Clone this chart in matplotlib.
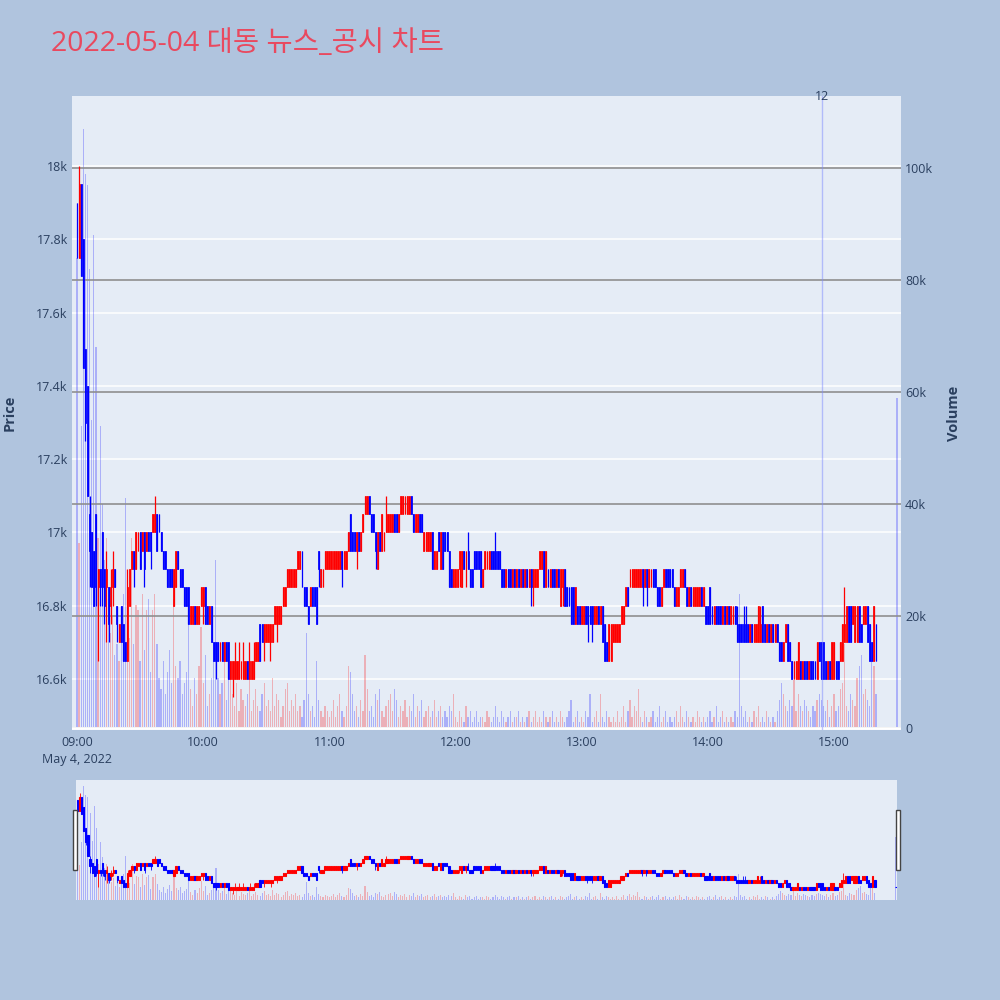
import matplotlib.pyplot as plt
from matplotlib.patches import Rectangle
from matplotlib.ticker import FuncFormatter

plt.rcParams['font.family'] = ['Open Sans', 'Noto Sans CJK KR', 'DejaVu Sans']

title = '2022-05-04 대동 뉴스_공시 차트'
date_label = 'May 4, 2022'

# minutes after 09:00 (one candle per minute, plus the 15:30 closing print)
minutes = list(range(381)) + [390]

opens = [
    17900, 17750, 17950, 17800, 17500, 17400, 17050, 17000, 16950, 17050,
    16850, 16900, 17000, 16900, 16850, 16850, 16800, 16850, 16900, 16800,
    16700, 16800, 16750, 16700, 16650, 16800, 16900, 16950, 16900, 16950,
    17000, 16950, 17000, 16950, 17000, 17000, 17000, 17000, 17050, 17050,
    17000, 16950, 16950, 16900, 16900, 16900, 16800, 16850, 16950, 16900,
    16900, 16850, 16850, 16850, 16750, 16750, 16800, 16750, 16750, 16800,
    16800, 16850, 16800, 16750, 16800, 16700, 16700, 16700, 16650, 16700,
    16650, 16700, 16700, 16600, 16600, 16600, 16600, 16600, 16600, 16600,
    16600, 16650, 16600, 16600, 16600, 16650, 16650, 16750, 16750, 16700,
    16700, 16700, 16700, 16700, 16750, 16750, 16750, 16750, 16800, 16800,
    16850, 16850, 16850, 16850, 16850, 16900, 16900, 16950, 16850, 16850,
    16800, 16800, 16850, 16850, 16850, 16950, 16850, 16850, 16900, 16900,
    16900, 16900, 16900, 16900, 16900, 16900, 16950, 16900, 16900, 16950,
    17050, 17000, 17000, 16950, 17000, 16950, 17000, 17050, 17050, 17100,
    17050, 17050, 17000, 16900, 17000, 16950, 16950, 17000, 17000, 17000,
    17000, 17050, 17050, 17000, 17050, 17050, 17050, 17050, 17050, 17100,
    17050, 17000, 17000, 17050, 17050, 16950, 16950, 16950, 16950, 17000,
    16900, 16900, 17000, 16900, 17000, 17000, 17000, 16950, 16900, 16850,
    16850, 16850, 16900, 16850, 16950, 16900, 16950, 16900, 16900, 16950,
    16950, 16950, 16950, 16850, 16900, 16900, 16900, 16950, 16950, 16950,
    16950, 16950, 16900, 16900, 16850, 16900, 16900, 16850, 16900, 16850,
    16900, 16850, 16900, 16850, 16900, 16850, 16900, 16850, 16850, 16850,
    16900, 16900, 16950, 16850, 16900, 16850, 16900, 16900, 16850, 16900,
    16800, 16850, 16900, 16850, 16850, 16850, 16850, 16750, 16800, 16800,
    16750, 16750, 16800, 16800, 16800, 16800, 16750, 16750, 16800, 16750,
    16800, 16750, 16700, 16650, 16650, 16700, 16700, 16700, 16700, 16750,
    16750, 16800, 16850, 16850, 16850, 16850, 16850, 16850, 16850, 16900,
    16850, 16900, 16850, 16850, 16900, 16900, 16850, 16850, 16800, 16850,
    16900, 16900, 16900, 16900, 16850, 16800, 16800, 16850, 16850, 16900,
    16850, 16800, 16850, 16800, 16800, 16800, 16800, 16850, 16800, 16800,
    16800, 16850, 16800, 16750, 16800, 16800, 16800, 16750, 16800, 16750,
    16800, 16750, 16750, 16800, 16750, 16750, 16750, 16750, 16750, 16750,
    16700, 16750, 16700, 16700, 16700, 16700, 16800, 16750, 16700, 16750,
    16700, 16750, 16700, 16750, 16700, 16700, 16650, 16700, 16750, 16700,
    16650, 16600, 16600, 16600, 16650, 16600, 16650, 16650, 16600, 16650,
    16650, 16650, 16600, 16700, 16700, 16700, 16650, 16600, 16650, 16600,
    16600, 16650, 16650, 16650, 16650, 16700, 16700, 16800, 16800, 16750,
    16700, 16700, 16800, 16750, 16750, 16750, 16800, 16750, 16700, 16650,
    16750, 16650,
]

highs = [
    17900, 18000, 17950, 17800, 17500, 17400, 17100, 17000, 16950, 17050,
    16900, 16900, 17000, 16900, 16950, 16850, 16900, 16950, 16900, 16800,
    16750, 16800, 16750, 16700, 16900, 16900, 16950, 16950, 17000, 17000,
    17000, 17000, 17000, 17000, 17000, 17000, 17050, 17100, 17050, 17050,
    17000, 16950, 16950, 16900, 16900, 16900, 16900, 16950, 16950, 16900,
    16900, 16850, 16850, 16850, 16800, 16800, 16800, 16800, 16800, 16850,
    16850, 16850, 16800, 16800, 16800, 16700, 16700, 16700, 16700, 16700,
    16700, 16700, 16700, 16650, 16650, 16700, 16650, 16700, 16650, 16700,
    16650, 16650, 16700, 16650, 16700, 16700, 16700, 16750, 16750, 16750,
    16750, 16750, 16750, 16750, 16800, 16800, 16800, 16800, 16850, 16850,
    16900, 16900, 16900, 16900, 16900, 16950, 16950, 16950, 16850, 16850,
    16800, 16850, 16850, 16850, 16850, 16950, 16900, 16900, 16950, 16950,
    16950, 16950, 16950, 16950, 16950, 16950, 16950, 16950, 16950, 17000,
    17050, 17000, 17000, 17000, 17000, 17000, 17050, 17100, 17100, 17100,
    17050, 17050, 17000, 17000, 17000, 17050, 17000, 17100, 17050, 17050,
    17050, 17050, 17050, 17050, 17100, 17100, 17100, 17100, 17100, 17100,
    17050, 17050, 17050, 17050, 17050, 17000, 17000, 17000, 17000, 17000,
    16950, 16950, 17000, 17000, 17000, 17000, 17000, 16950, 16900, 16900,
    16900, 16900, 16950, 16950, 16950, 16950, 17000, 16900, 16900, 16950,
    16950, 16950, 16950, 16900, 16950, 16950, 16950, 16950, 16950, 17000,
    16950, 16950, 16900, 16900, 16900, 16900, 16900, 16900, 16900, 16900,
    16900, 16900, 16900, 16900, 16900, 16900, 16900, 16900, 16900, 16900,
    16950, 16950, 16950, 16950, 16900, 16900, 16900, 16900, 16900, 16900,
    16900, 16900, 16900, 16850, 16850, 16850, 16850, 16850, 16800, 16800,
    16800, 16800, 16800, 16800, 16800, 16800, 16800, 16800, 16800, 16800,
    16800, 16750, 16700, 16750, 16750, 16750, 16750, 16750, 16750, 16800,
    16800, 16850, 16850, 16900, 16900, 16900, 16900, 16900, 16900, 16900,
    16900, 16900, 16900, 16900, 16900, 16900, 16850, 16850, 16850, 16900,
    16900, 16900, 16900, 16900, 16850, 16850, 16850, 16900, 16900, 16900,
    16850, 16850, 16850, 16850, 16850, 16850, 16850, 16850, 16850, 16800,
    16800, 16850, 16800, 16800, 16800, 16800, 16800, 16800, 16800, 16800,
    16800, 16800, 16800, 16800, 16800, 16750, 16750, 16800, 16800, 16750,
    16750, 16750, 16750, 16750, 16800, 16800, 16800, 16750, 16750, 16750,
    16750, 16750, 16750, 16750, 16700, 16700, 16700, 16750, 16750, 16700,
    16650, 16650, 16650, 16700, 16650, 16650, 16650, 16650, 16650, 16650,
    16650, 16650, 16700, 16700, 16700, 16700, 16650, 16650, 16650, 16700,
    16700, 16650, 16650, 16700, 16750, 16850, 16800, 16800, 16800, 16800,
    16800, 16800, 16800, 16750, 16800, 16800, 16800, 16750, 16700, 16800,
    16750, 16650,
]

lows = [
    17750, 17750, 17700, 17450, 17250, 17100, 16850, 16850, 16800, 16800,
    16650, 16800, 16800, 16750, 16700, 16700, 16750, 16800, 16850, 16700,
    16700, 16700, 16650, 16650, 16650, 16800, 16900, 16850, 16900, 16950,
    16900, 16950, 16850, 16950, 16950, 16900, 17000, 17000, 16950, 17000,
    16950, 16900, 16900, 16850, 16850, 16850, 16800, 16850, 16900, 16850,
    16850, 16800, 16800, 16750, 16750, 16750, 16750, 16750, 16750, 16800,
    16750, 16750, 16750, 16750, 16700, 16650, 16600, 16650, 16650, 16650,
    16650, 16650, 16600, 16600, 16550, 16600, 16600, 16600, 16600, 16600,
    16600, 16600, 16600, 16600, 16600, 16650, 16650, 16650, 16700, 16650,
    16700, 16700, 16650, 16700, 16750, 16700, 16750, 16750, 16800, 16800,
    16850, 16850, 16850, 16850, 16850, 16900, 16900, 16850, 16800, 16800,
    16750, 16800, 16800, 16800, 16750, 16850, 16850, 16850, 16900, 16900,
    16900, 16900, 16900, 16900, 16900, 16900, 16850, 16900, 16900, 16950,
    16950, 16950, 16950, 16900, 16950, 16950, 17000, 17050, 17050, 17050,
    17000, 17000, 16900, 16900, 16950, 16950, 16950, 17000, 17000, 17000,
    17000, 17000, 17000, 17000, 17050, 17050, 17050, 17050, 17050, 17050,
    17000, 17000, 17000, 17000, 17000, 16950, 16950, 16950, 16950, 16900,
    16900, 16900, 16950, 16900, 16900, 16950, 16950, 16850, 16850, 16850,
    16850, 16850, 16850, 16850, 16900, 16850, 16900, 16850, 16850, 16900,
    16900, 16900, 16850, 16850, 16900, 16900, 16900, 16900, 16900, 16900,
    16900, 16900, 16850, 16850, 16850, 16850, 16850, 16850, 16850, 16850,
    16850, 16850, 16850, 16850, 16850, 16850, 16800, 16800, 16850, 16850,
    16900, 16900, 16850, 16850, 16850, 16850, 16850, 16850, 16850, 16850,
    16800, 16800, 16800, 16800, 16800, 16750, 16750, 16750, 16750, 16750,
    16750, 16750, 16750, 16700, 16750, 16700, 16750, 16750, 16750, 16750,
    16700, 16650, 16650, 16650, 16650, 16700, 16700, 16700, 16700, 16750,
    16750, 16800, 16800, 16850, 16850, 16850, 16850, 16850, 16850, 16800,
    16850, 16800, 16850, 16850, 16850, 16850, 16800, 16800, 16800, 16850,
    16850, 16850, 16850, 16850, 16800, 16800, 16800, 16850, 16850, 16850,
    16800, 16800, 16800, 16800, 16800, 16800, 16800, 16800, 16800, 16750,
    16750, 16750, 16750, 16750, 16750, 16750, 16750, 16750, 16750, 16750,
    16750, 16750, 16750, 16750, 16700, 16700, 16700, 16700, 16700, 16700,
    16700, 16700, 16700, 16700, 16700, 16700, 16700, 16700, 16700, 16700,
    16700, 16700, 16700, 16700, 16650, 16650, 16650, 16700, 16650, 16650,
    16600, 16600, 16600, 16600, 16600, 16600, 16600, 16600, 16600, 16600,
    16600, 16600, 16600, 16650, 16600, 16600, 16600, 16600, 16600, 16600,
    16600, 16600, 16600, 16650, 16650, 16700, 16700, 16700, 16700, 16750,
    16700, 16700, 16700, 16700, 16750, 16750, 16700, 16650, 16650, 16650,
    16650, 16650,
]

closes = [
    17750, 17950, 17700, 17450, 17300, 17100, 16950, 16850, 16800, 16850,
    16900, 16850, 16850, 16800, 16900, 16750, 16850, 16900, 16850, 16750,
    16750, 16700, 16650, 16650, 16850, 16900, 16950, 16900, 17000, 17000,
    16900, 17000, 16900, 17000, 16950, 16950, 17050, 17050, 16950, 17000,
    16950, 16900, 16900, 16850, 16850, 16850, 16900, 16950, 16900, 16850,
    16850, 16800, 16800, 16750, 16800, 16800, 16750, 16800, 16800, 16850,
    16850, 16750, 16750, 16800, 16700, 16650, 16650, 16650, 16700, 16650,
    16700, 16650, 16600, 16650, 16650, 16650, 16650, 16650, 16650, 16650,
    16650, 16600, 16650, 16650, 16650, 16700, 16700, 16650, 16700, 16750,
    16750, 16750, 16750, 16750, 16800, 16800, 16800, 16800, 16850, 16850,
    16900, 16900, 16900, 16900, 16900, 16950, 16950, 16850, 16800, 16800,
    16750, 16850, 16800, 16800, 16750, 16900, 16900, 16900, 16950, 16950,
    16950, 16950, 16950, 16950, 16950, 16950, 16900, 16950, 16950, 17000,
    16950, 16950, 16950, 17000, 16950, 17000, 17050, 17100, 17100, 17050,
    17000, 17000, 16950, 17000, 16950, 17050, 17000, 17050, 17050, 17050,
    17050, 17000, 17000, 17050, 17100, 17100, 17100, 17100, 17100, 17050,
    17000, 17050, 17050, 17000, 17000, 17000, 17000, 17000, 17000, 16900,
    16950, 16950, 16950, 17000, 16900, 16950, 16950, 16850, 16850, 16900,
    16900, 16900, 16950, 16950, 16900, 16950, 16900, 16850, 16850, 16900,
    16900, 16900, 16850, 16900, 16950, 16950, 16950, 16900, 16900, 16900,
    16900, 16900, 16850, 16850, 16900, 16850, 16850, 16900, 16850, 16900,
    16850, 16900, 16850, 16900, 16850, 16900, 16850, 16900, 16900, 16900,
    16950, 16950, 16850, 16950, 16850, 16900, 16850, 16850, 16900, 16850,
    16900, 16900, 16800, 16800, 16800, 16750, 16750, 16850, 16750, 16750,
    16800, 16800, 16750, 16750, 16750, 16750, 16800, 16800, 16750, 16800,
    16700, 16650, 16650, 16750, 16750, 16750, 16750, 16750, 16750, 16800,
    16800, 16850, 16800, 16900, 16900, 16900, 16900, 16900, 16900, 16850,
    16900, 16850, 16900, 16900, 16850, 16850, 16800, 16800, 16850, 16900,
    16850, 16850, 16850, 16850, 16800, 16850, 16850, 16900, 16900, 16850,
    16800, 16850, 16800, 16850, 16850, 16850, 16850, 16800, 16850, 16750,
    16750, 16750, 16750, 16800, 16750, 16750, 16750, 16800, 16750, 16800,
    16750, 16800, 16800, 16750, 16700, 16700, 16700, 16700, 16700, 16700,
    16750, 16700, 16750, 16750, 16800, 16750, 16700, 16700, 16750, 16700,
    16750, 16700, 16750, 16700, 16650, 16650, 16700, 16750, 16650, 16650,
    16600, 16650, 16650, 16700, 16600, 16650, 16600, 16600, 16650, 16600,
    16600, 16600, 16700, 16650, 16600, 16600, 16600, 16650, 16600, 16700,
    16700, 16600, 16600, 16700, 16750, 16750, 16800, 16700, 16700, 16800,
    16800, 16800, 16700, 16700, 16800, 16800, 16700, 16650, 16650, 16800,
    16650, 16650,
]

# volume in thousands of shares
volume_k = [
    84, 33, 54, 107, 99, 97, 82, 55, 88, 68, 34, 54, 40, 30, 34, 23, 17, 20, 13, 15,
    12, 19, 24, 41, 18, 16, 34, 15, 22, 21, 12, 24, 14, 21, 23, 10, 21, 24, 15, 9,
    7, 12, 6, 10, 14, 8, 23, 11, 9, 12, 6, 8, 10, 20, 7, 4, 9, 6, 11, 18,
    8, 13, 4, 6, 9, 12, 30, 9, 6, 8, 14, 5, 11, 10, 6, 4, 8, 3, 7, 5,
    4, 6, 9, 3, 5, 7, 4, 3, 6, 8, 4, 5, 3, 9, 4, 6, 5, 2, 4, 7,
    8, 3, 5, 4, 6, 3, 4, 2, 5, 17, 6, 3, 4, 2, 12, 5, 3, 2, 4, 3,
    2, 3, 5, 2, 4, 6, 3, 2, 4, 11, 10, 6, 3, 4, 2, 5, 3, 13, 7, 3,
    4, 2, 6, 5, 7, 3, 2, 4, 5, 6, 3, 7, 5, 2, 4, 3, 5, 2, 4, 3,
    6, 2, 4, 3, 5, 2, 3, 4, 2, 3, 5, 2, 3, 4, 2, 3, 2, 4, 3, 6,
    2, 1, 3, 2, 1, 4, 2, 3, 1, 2, 3, 1, 2, 2, 1, 3, 2, 1, 2, 4,
    2, 1, 3, 2, 1, 2, 3, 1, 2, 2, 3, 1, 2, 1, 2, 3, 1, 2, 3, 1,
    2, 1, 3, 2, 1, 2, 3, 1, 2, 1, 3, 2, 1, 2, 3, 5, 1, 2, 3, 1,
    2, 1, 3, 2, 6, 1, 2, 3, 1, 6, 2, 1, 3, 2, 1, 2, 1, 3, 1, 2,
    4, 1, 3, 5, 2, 4, 3, 7, 2, 1, 3, 2, 1, 2, 3, 1, 2, 4, 1, 2,
    3, 1, 2, 1, 2, 3, 1, 4, 2, 1, 3, 2, 1, 2, 1, 3, 2, 1, 2, 1,
    2, 3, 1, 2, 4, 1, 2, 3, 1, 2, 1, 2, 1, 3, 2, 24, 4, 2, 3, 1,
    2, 1, 3, 2, 4, 1, 2, 1, 3, 2, 1, 2, 1, 3, 5, 8, 6, 4, 3, 5,
    4, 8.5, 3, 6, 4, 3, 5, 4, 3, 2, 4, 3, 5, 6, 5, 4, 3, 5, 2, 4,
    6, 3, 4, 7, 8, 15, 4, 3, 6, 5, 4, 9, 11, 13, 6, 7, 5, 4, 12, 11,
    6, 59,
]

tick_minutes = [0, 60, 120, 180, 240, 300, 360]
tick_labels = ['09:00\n' + date_label, '10:00', '11:00', '12:00', '13:00', '14:00', '15:00']
price_ticks = [16600, 16800, 17000, 17200, 17400, 17600, 17800, 18000]
volume_ticks = [0, 20, 40, 60, 80, 100]
news_minutes = [354.3]
news_labels = ['12']

assert len(opens) == len(highs) == len(lows) == len(closes) == len(volume_k) == len(minutes)

UP, DOWN = '#FF0000', '#0000FF'
TXT = '#2a3f5f'
PLOT_BG = '#E5ECF6'
PRICE_LIM = (16461, 18191)
VOL_LIM = (-0.36, 112.9)

colors = [UP if c > o else DOWN for o, c in zip(opens, closes)]
bottoms = [min(o, c) for o, c in zip(opens, closes)]
heights = [abs(c - o) for o, c in zip(opens, closes)]

fig = plt.figure(figsize=(10, 10), dpi=100, facecolor='#B0C4DE')


def panel(rect, xlim, body_w, body_lw, wick_lw, vol_w):
    ax_grid = fig.add_axes(rect)
    ax_vol = fig.add_axes(rect, sharex=ax_grid)
    ax_px = fig.add_axes(rect, sharex=ax_grid, sharey=ax_grid)
    ax_grid.set_facecolor(PLOT_BG)
    ax_grid.set_xlim(*xlim)
    ax_grid.set_ylim(*PRICE_LIM)
    ax_vol.set_ylim(*VOL_LIM)
    ax_vol.patch.set_visible(False)
    for a in (ax_grid, ax_vol):
        for s in a.spines.values():
            s.set_visible(False)
    ax_vol.bar(minutes, volume_k, width=vol_w, color=colors, alpha=0.25, linewidth=0)
    ax_px.vlines(minutes, lows, highs, colors=colors, linewidth=wick_lw)
    ax_px.bar(minutes, heights, bottom=bottoms, width=body_w, color=colors,
              edgecolor=colors, linewidth=body_lw)
    ax_px.axis('off')
    return ax_grid, ax_vol, ax_px


# main chart
ax, axv, axp = panel([0.072, 0.270, 0.829, 0.634], (-2.38, 391.9), 0.45, 0.55, 0.9, 0.6)

ax.set_yticks(price_ticks)
ax.yaxis.set_major_formatter(FuncFormatter(lambda v, p: f'{v / 1000:g}k'))
ax.grid(axis='y', color='white', linewidth=1.1)
ax.set_xticks(tick_minutes)
ax.set_xticklabels(tick_labels)
ax.tick_params(length=0, labelsize=9, labelcolor=TXT, pad=4)
for lbl in ax.get_xticklabels():
    lbl.set_linespacing(1.45)
ax.tick_params(axis='y', pad=3)

axv.yaxis.tick_right()
axv.set_yticks(volume_ticks)
axv.yaxis.set_major_formatter(FuncFormatter(lambda v, p: '0' if v == 0 else f'{v:g}k'))
axv.grid(axis='y', color='#8f8f8f', linewidth=1.2)
axv.axhline(0, color='white', linewidth=2)
axv.tick_params(axis='y', length=0, labelsize=9, labelcolor=TXT, pad=3)
axv.tick_params(axis='x', length=0, labelbottom=False)

for m, lab in zip(news_minutes, news_labels):
    axp.axvline(m, color='#7f8cff', alpha=0.5, linewidth=1)
    axp.annotate(lab, (m, 1.0), xycoords=('data', 'axes fraction'), xytext=(0, 0),
                 textcoords='offset points', ha='center', va='center',
                 fontsize=9, color=TXT)

fig.text(0.010, 0.587, 'Price', rotation=90, ha='center', va='center',
         fontsize=10.5, fontweight='bold', color=TXT)
fig.text(0.954, 0.587, 'Volume', rotation=90, ha='center', va='center',
         fontsize=10.5, fontweight='bold', color=TXT)

fig.text(0.051, 0.949, title, fontsize=20.5, color='#E9495F', va='baseline',
         family=['Open Sans', 'Noto Sans CJK KR', 'DejaVu Sans'])

# range slider
rs, rsv, rsp = panel([0.076, 0.100, 0.821, 0.120], (-0.7, 390.5), 0.6, 0.8, 0.6, 0.5)
for a in (rs, rsv):
    a.set_xticks([])
    a.set_yticks([])

for x0 in (0.073, 0.896):
    fig.add_artist(Rectangle((x0, 0.130), 0.004, 0.060, transform=fig.transFigure,
                             facecolor='white', edgecolor='#444444', linewidth=1))

fig.savefig('out.png', dpi=100, facecolor=fig.get_facecolor())
